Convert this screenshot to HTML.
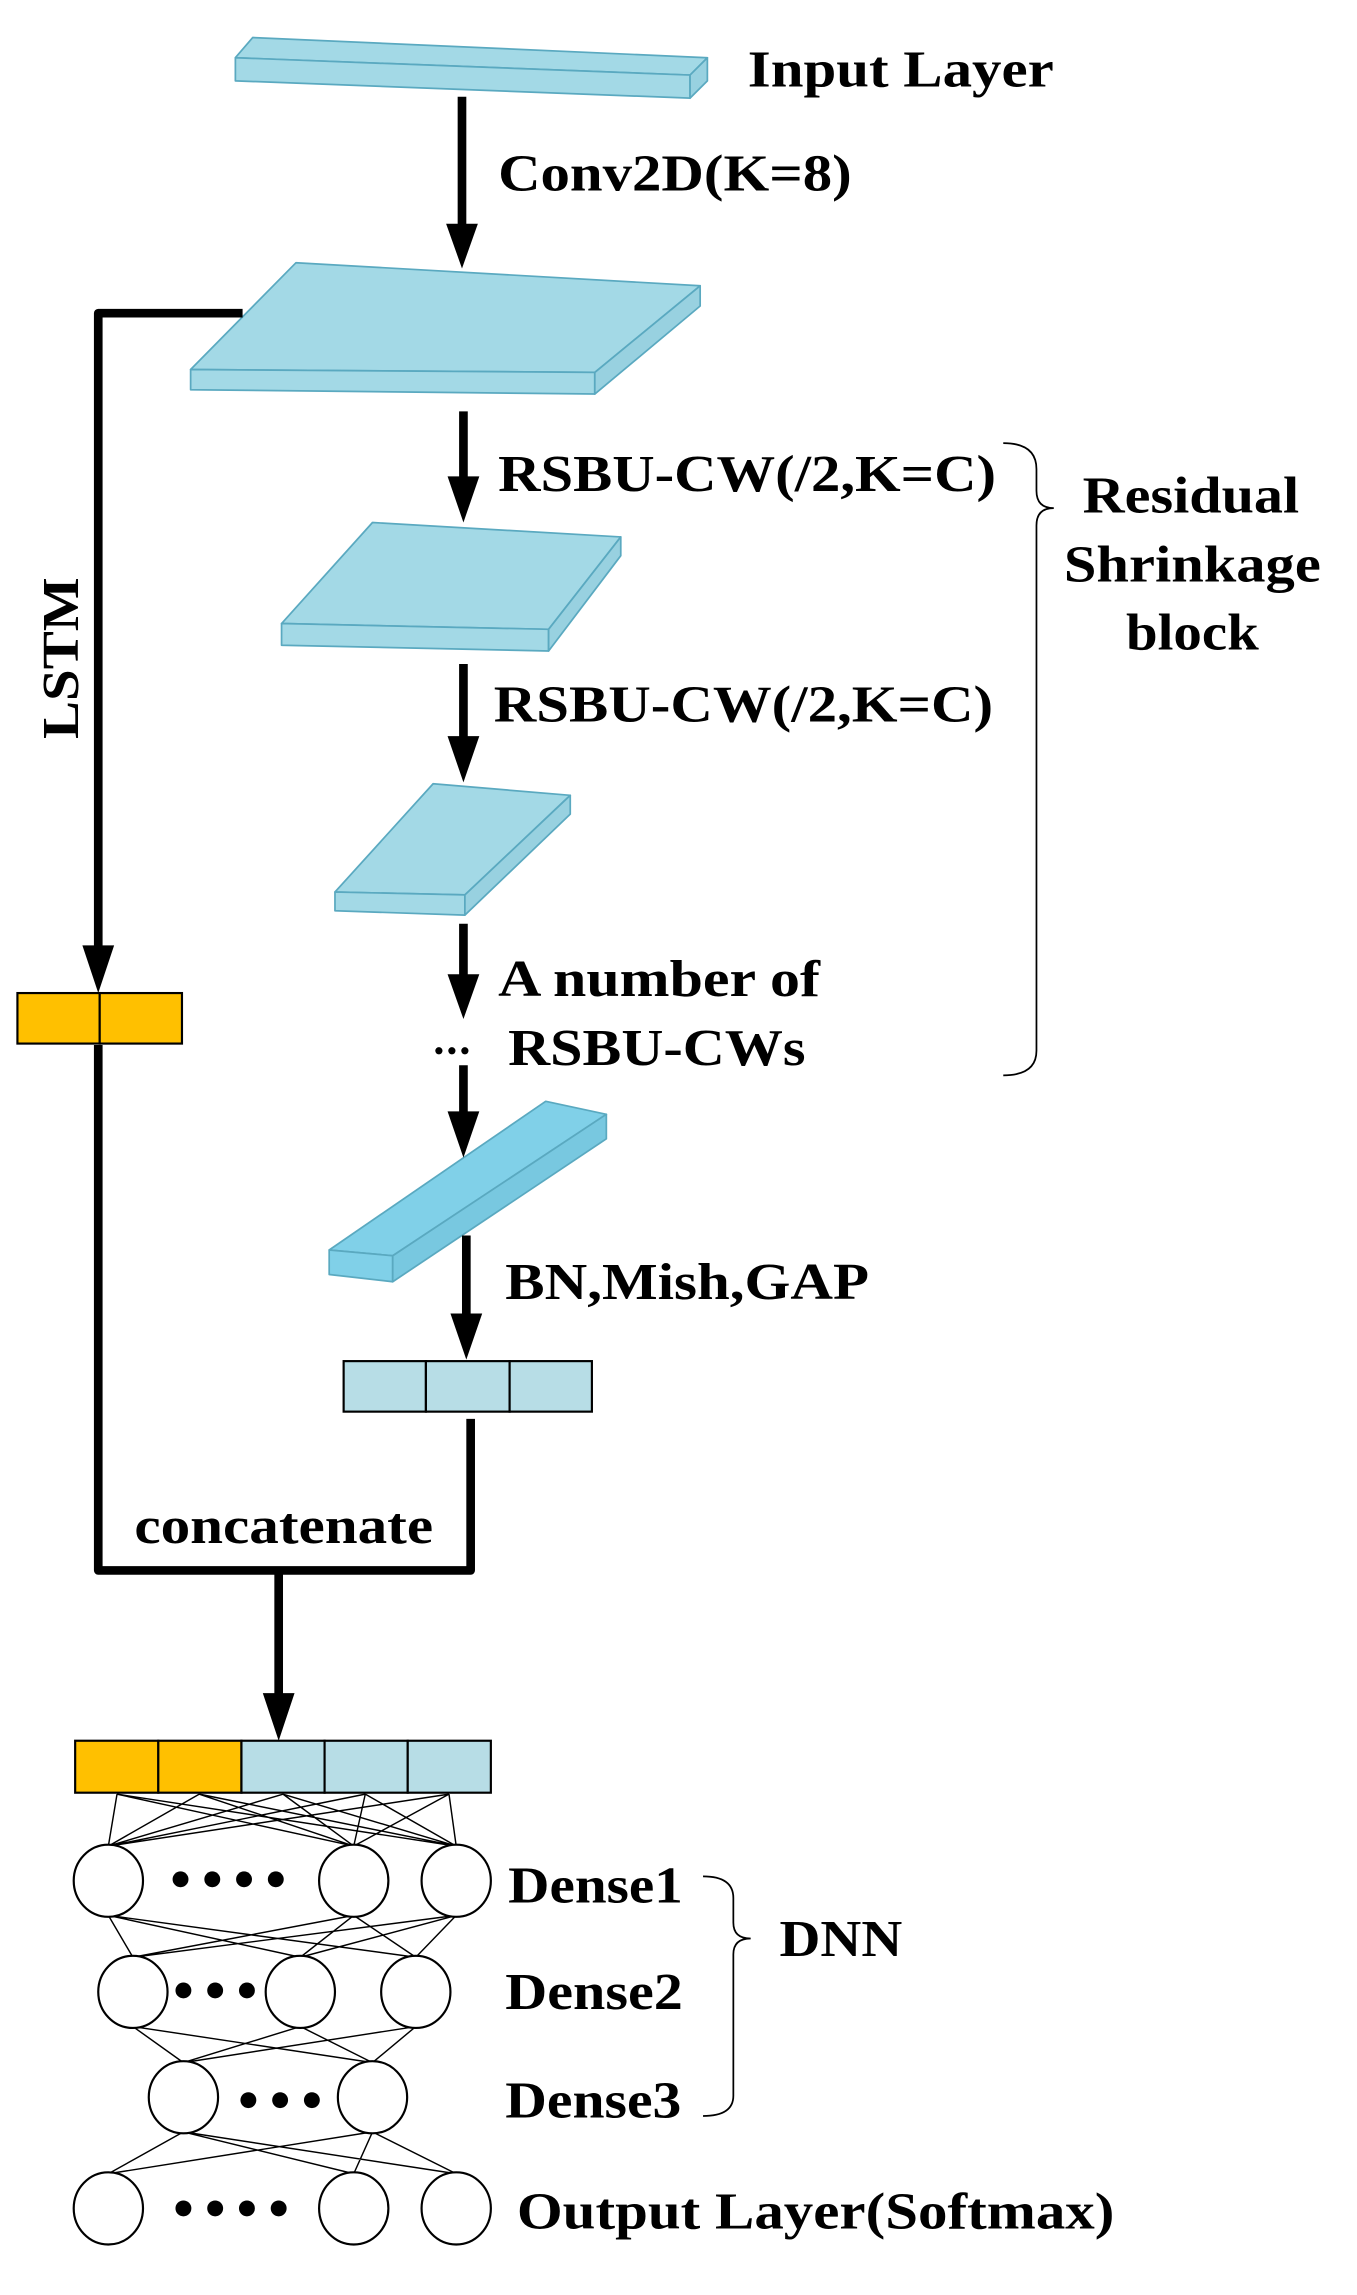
<!DOCTYPE html>
<html><head><meta charset="utf-8"><style>
html,body{margin:0;padding:0;background:#fff;}
svg{display:block;}
text{font-family:"Liberation Serif",serif;font-weight:bold;fill:#000;}
</style></head><body>
<svg width="1357" height="2295" viewBox="0 0 940 1590" xmlns="http://www.w3.org/2000/svg">
<g stroke="#5aa9c0" stroke-width="1.2" stroke-linejoin="round">
<polygon points="175,26 490,40 478,52 163,40" fill="#a3d9e6"/>
<polygon points="163,40 478,52 478,68 163,56" fill="#a3d9e6"/>
<polygon points="478,52 490,40 490,56 478,68" fill="#98d1e0"/>
<polygon points="205,182 485,198 412,258 132,256" fill="#a3d9e6"/>
<polygon points="132,256 412,258 412,273 132,270" fill="#a3d9e6"/>
<polygon points="412,258 485,198 485,212 412,273" fill="#98d1e0"/>
<polygon points="258,362 430,372 380,436 195,432" fill="#a3d9e6"/>
<polygon points="195,432 380,436 380,451 195,447" fill="#a3d9e6"/>
<polygon points="380,436 430,372 430,385 380,451" fill="#98d1e0"/>
<polygon points="300,543 395,551 322,620 232,618" fill="#a3d9e6"/>
<polygon points="232,618 322,620 322,634 232,631" fill="#a3d9e6"/>
<polygon points="322,620 395,551 395,564 322,634" fill="#98d1e0"/>
<polygon points="378,763 420,772 272,870 228,866" fill="#80d0e8"/>
<polygon points="228,866 272,870 272,888 228,883" fill="#80d0e8"/>
<polygon points="272,870 420,772 420,789 272,888" fill="#78c8e0"/>
</g>
<g stroke="#000" stroke-width="6" fill="none">
<line x1="320" y1="67" x2="320" y2="160"/>
<line x1="321" y1="285" x2="321" y2="335"/>
<line x1="321" y1="460" x2="321" y2="515"/>
<line x1="321" y1="640" x2="321" y2="680"/>
<line x1="321" y1="738" x2="321" y2="775"/>
<line x1="323" y1="856" x2="323" y2="915"/>
<polyline points="168,217 68,217 68,660" stroke-linejoin="round"/>
<polyline points="326,983 326,1088 68,1088 68,724" stroke-linejoin="round"/>
<line x1="193" y1="1088" x2="193" y2="1178"/>
</g>
<g fill="#000">
<polygon points="309,155 331,155 320,186"/>
<polygon points="310,330 332,330 321,362"/>
<polygon points="310,510 332,510 321,542"/>
<polygon points="310,675 332,675 321,706"/>
<polygon points="310,770 332,770 321,802"/>
<polygon points="312,910 334,910 323,942"/>
<polygon points="57,655 79,655 68,688"/>
<polygon points="182,1173 204,1173 193,1206"/>
</g>
<g stroke="#000" stroke-width="1.5">
<rect x="12" y="688" width="57" height="35" fill="#ffc000"/>
<rect x="69" y="688" width="57" height="35" fill="#ffc000"/>
<rect x="238" y="943" width="57" height="35" fill="#b7dde6"/>
<rect x="295" y="943" width="58" height="35" fill="#b7dde6"/>
<rect x="353" y="943" width="57" height="35" fill="#b7dde6"/>
<rect x="52" y="1206" width="57.6" height="36" fill="#ffc000"/>
<rect x="109.6" y="1206" width="57.6" height="36" fill="#ffc000"/>
<rect x="167.2" y="1206" width="57.6" height="36" fill="#b7dde6"/>
<rect x="224.8" y="1206" width="57.6" height="36" fill="#b7dde6"/>
<rect x="282.4" y="1206" width="57.6" height="36" fill="#b7dde6"/>
</g>
<g stroke="#000" stroke-width="1">
<path d="M81,1243 L75,1279 M81,1243 L245,1279 M81,1243 L316,1279
M138,1243 L75,1279 M138,1243 L245,1279 M138,1243 L316,1279
M196,1243 L75,1279 M196,1243 L245,1279 M196,1243 L316,1279
M253,1243 L75,1279 M253,1243 L245,1279 M253,1243 L316,1279
M311,1243 L75,1279 M311,1243 L245,1279 M311,1243 L316,1279
M75,1327 L92,1356 M75,1327 L208,1356 M75,1327 L288,1356
M245,1327 L92,1356 M245,1327 L208,1356 M245,1327 L288,1356
M316,1327 L92,1356 M316,1327 L208,1356 M316,1327 L288,1356
M92,1404 L127,1429 M92,1404 L258,1429
M208,1404 L127,1429 M208,1404 L258,1429
M288,1404 L127,1429 M288,1404 L258,1429
M127,1477 L75,1506 M127,1477 L245,1506 M127,1477 L316,1506
M258,1477 L75,1506 M258,1477 L245,1506 M258,1477 L316,1506"/>
</g>
<g stroke="#000" stroke-width="1.5" fill="#fff">
<ellipse cx="75" cy="1303" rx="24" ry="25"/>
<ellipse cx="245" cy="1303" rx="24" ry="25"/>
<ellipse cx="316" cy="1303" rx="24" ry="25"/>
<ellipse cx="92" cy="1380" rx="24" ry="25"/>
<ellipse cx="208" cy="1380" rx="24" ry="25"/>
<ellipse cx="288" cy="1380" rx="24" ry="25"/>
<ellipse cx="127" cy="1453" rx="24" ry="25"/>
<ellipse cx="258" cy="1453" rx="24" ry="25"/>
<ellipse cx="75" cy="1530" rx="24" ry="25"/>
<ellipse cx="245" cy="1530" rx="24" ry="25"/>
<ellipse cx="316" cy="1530" rx="24" ry="25"/>
</g>
<g fill="#000">
<circle cx="125" cy="1302" r="5.5"/><circle cx="147" cy="1302" r="5.5"/><circle cx="169" cy="1302" r="5.5"/><circle cx="191" cy="1302" r="5.5"/>
<circle cx="127" cy="1379" r="5.5"/><circle cx="149" cy="1379" r="5.5"/><circle cx="171" cy="1379" r="5.5"/>
<circle cx="172" cy="1455" r="5.5"/><circle cx="194" cy="1455" r="5.5"/><circle cx="216" cy="1455" r="5.5"/>
<circle cx="127" cy="1530" r="5.5"/><circle cx="149" cy="1530" r="5.5"/><circle cx="171" cy="1530" r="5.5"/><circle cx="193" cy="1530" r="5.5"/>
<circle cx="304" cy="728" r="2.5"/><circle cx="313" cy="728" r="2.5"/><circle cx="322" cy="728" r="2.5"/>
</g>
<g stroke="#000" stroke-width="1.2" fill="none">
<path d="M695,307 Q718,307 718,325 L718,340 Q718,352 730,352 Q718,352 718,364 L718,728 Q718,745 695,745"/>
<path d="M487,1300 Q508,1300 508,1315 L508,1332 Q508,1343 520,1343 Q508,1343 508,1354 L508,1452 Q508,1466 487,1466"/>
</g>
<g font-size="36">
<text x="518" y="60" textLength="212" lengthAdjust="spacingAndGlyphs">Input Layer</text>
<text x="345" y="132" textLength="245" lengthAdjust="spacingAndGlyphs">Conv2D(K=8)</text>
<text x="345" y="340" textLength="345" lengthAdjust="spacingAndGlyphs">RSBU-CW(/2,K=C)</text>
<text x="342" y="500" textLength="346" lengthAdjust="spacingAndGlyphs">RSBU-CW(/2,K=C)</text>
<text x="345" y="690" textLength="223" lengthAdjust="spacingAndGlyphs">A number of</text>
<text x="352" y="738" textLength="206" lengthAdjust="spacingAndGlyphs">RSBU-CWs</text>
<text x="750" y="355" textLength="150" lengthAdjust="spacingAndGlyphs">Residual</text>
<text x="737" y="403" textLength="178" lengthAdjust="spacingAndGlyphs">Shrinkage</text>
<text x="780" y="450" textLength="92" lengthAdjust="spacingAndGlyphs">block</text>
<text x="350" y="900" textLength="252" lengthAdjust="spacingAndGlyphs">BN,Mish,GAP</text>
<text x="93" y="1069" textLength="207" lengthAdjust="spacingAndGlyphs">concatenate</text>
<text x="352" y="1318" textLength="121" lengthAdjust="spacingAndGlyphs">Dense1</text>
<text x="350" y="1392" textLength="123" lengthAdjust="spacingAndGlyphs">Dense2</text>
<text x="350" y="1467" textLength="122" lengthAdjust="spacingAndGlyphs">Dense3</text>
<text x="358" y="1544" textLength="414" lengthAdjust="spacingAndGlyphs">Output Layer(Softmax)</text>
<text x="540" y="1355" textLength="85" lengthAdjust="spacingAndGlyphs">DNN</text>
<text transform="translate(54,512) rotate(-90)" textLength="112" lengthAdjust="spacingAndGlyphs">LSTM</text>
</g>
</svg>
</body></html>
